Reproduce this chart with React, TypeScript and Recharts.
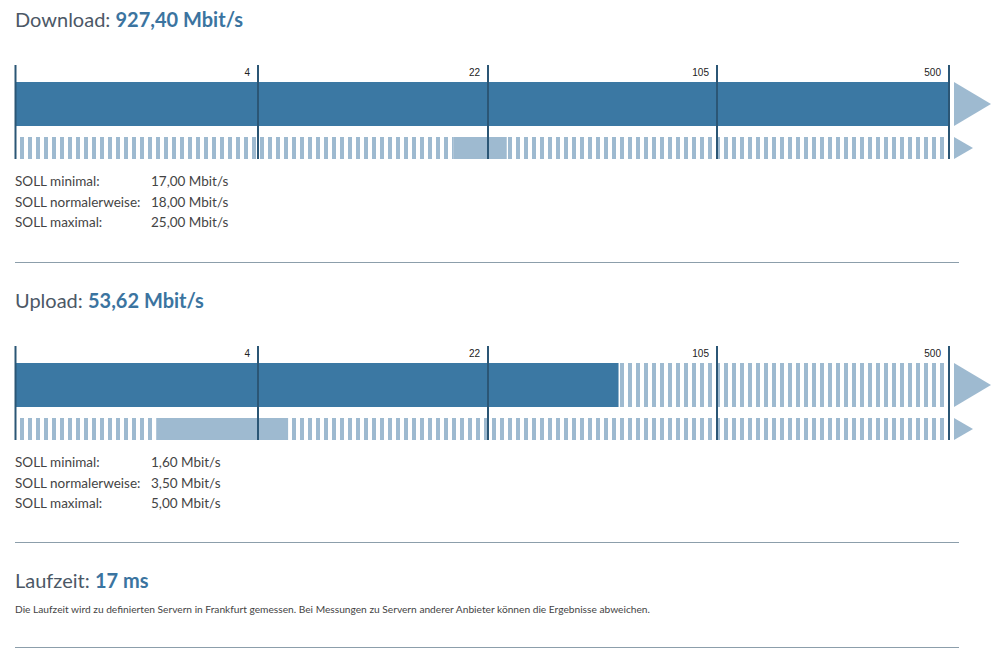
import React from "react";
import { Bar, BarChart, Cell, XAxis, YAxis } from "recharts";

// measured values and target ranges (Mbit/s)
const SECTION_TITLES = ["Download", "Upload"];
const MEASURED = [927.4, 53.62];
const SOLL_MIN = [17, 1.6];
const SOLL_NORMAL = [18, 3.5];
const SOLL_MAX = [25, 5];
const SOLL_LABELS = ["SOLL minimal:", "SOLL normalerweise:", "SOLL maximal:"];
const LATENCY_MS = 17;

// axis: four equal-ish segments, log interpolated inside each one
const TICK_VALUES = [4, 22, 105, 500];
const SCALE_BREAKS = [0.45, 4, 22, 105, 500];
const SEGMENT_WIDTHS = [242.5, 230, 229, 232];
const AXIS_TOTAL = SEGMENT_WIDTHS.reduce((a, b) => a + b, 0);

const DARK = "#3b78a3";
const LIGHT = "#9ebad0";
const LINE = "#2b5675";
const TEXT = "#4c5866";
const BLUE = "#3b74a0";
const FONT = "Lato, 'Open Sans', sans-serif";

const AXIS_H = 10;
const LINE_LEN = 94;

function toAxis(v: number) {
  let start = 0;
  for (let i = 0; i < SEGMENT_WIDTHS.length; i++) {
    const lo = SCALE_BREAKS[i];
    const hi = SCALE_BREAKS[i + 1];
    if (v <= hi) {
      const f = v <= 0 ? 0 : Math.max(0, Math.log(v / lo) / Math.log(hi / lo));
      return start + f * SEGMENT_WIDTHS[i];
    }
    start += SEGMENT_WIDTHS[i];
  }
  return start;
}

const fmt = (v: number) =>
  v.toLocaleString("de-DE", { minimumFractionDigits: 2, maximumFractionDigits: 2 });

const AxisTick = (props: any) => {
  const { x, index } = props;
  const last = index === TICK_VALUES.length;
  return (
    <g>
      <line x1={x} x2={x} y1={AXIS_H} y2={AXIS_H + LINE_LEN} stroke={LINE} strokeWidth={2} />
      {index > 0 && (
        <text
          x={x - 8}
          y={AXIS_H + 10.5}
          textAnchor="end"
          fontSize={10}
          fontFamily="'Liberation Sans', Arial, sans-serif"
          fill="#222"
        >
          {TICK_VALUES[index - 1]}
        </text>
      )}
      {last && (
        <>
          <polygon
            points={`${x + 5},${AXIS_H + 17} ${x + 42},${AXIS_H + 39} ${x + 5},${AXIS_H + 61}`}
            fill={LIGHT}
          />
          <polygon
            points={`${x + 5},${AXIS_H + 72} ${x + 24},${AXIS_H + 83} ${x + 5},${AXIS_H + 94}`}
            fill={LIGHT}
          />
        </>
      )}
    </g>
  );
};

const SpeedBar = ({ idx }: { idx: number }) => {
  const ist = toAxis(MEASURED[idx]);
  const lo = toAxis(SOLL_MIN[idx]);
  const hi = toAxis(SOLL_MAX[idx]);
  const data = [
    {
      name: SECTION_TITLES[idx],
      ist,
      istRest: AXIS_TOTAL - ist,
      sollLow: lo,
      sollBand: hi - lo,
      sollHigh: AXIS_TOTAL - hi,
    },
  ];
  const pid = `stripes${idx}`;
  const stripes = `url(#${pid})`;
  return (
    <BarChart
      width={994}
      height={121}
      data={data}
      layout="vertical"
      margin={{ top: 0, right: 45, bottom: 0, left: 15.5 }}
      barGap={11}
      barCategoryGap={0}
    >
      <defs>
        <pattern id={pid} x={4} y={0} width={8} height={200} patternUnits="userSpaceOnUse">
          <rect x={0} y={0} width={4} height={200} fill={LIGHT} />
        </pattern>
      </defs>
      <YAxis type="category" dataKey="name" hide width={0} />
      <Bar dataKey="ist" stackId="ist" barSize={44} fill={DARK} isAnimationActive={false} />
      <Bar dataKey="istRest" stackId="ist" barSize={44} fill={stripes} isAnimationActive={false} />
      <Bar dataKey="sollLow" stackId="soll" barSize={22} fill={stripes} isAnimationActive={false} />
      <Bar dataKey="sollBand" stackId="soll" barSize={22} fill={LIGHT} isAnimationActive={false}>
        {data.map((d) => (
          <Cell key={d.name} fill={LIGHT} />
        ))}
      </Bar>
      <Bar dataKey="sollHigh" stackId="soll" barSize={22} fill={stripes} isAnimationActive={false} />
      <XAxis
        type="number"
        orientation="top"
        domain={[0, AXIS_TOTAL]}
        ticks={[0, ...TICK_VALUES.map(toAxis)]}
        interval={0}
        height={AXIS_H}
        axisLine={false}
        tickLine={false}
        tick={<AxisTick />}
        allowDataOverflow
      />
    </BarChart>
  );
};

const Heading = ({ top, label, value }: { top: number; label: string; value: string }) => (
  <div
    style={{
      position: "absolute",
      left: 15,
      top,
      fontSize: 20,
      lineHeight: "24px",
      color: TEXT,
      fontFamily: FONT,
      whiteSpace: "nowrap",
    }}
  >
    {label}: <b style={{ color: BLUE }}>{value}</b>
  </div>
);

const Rule = ({ top }: { top: number }) => (
  <div style={{ position: "absolute", left: 15, top, width: 944, height: 1, background: "#8c9eab" }} />
);

const Section = ({ idx, offset }: { idx: number; offset: number }) => {
  const values = [SOLL_MIN[idx], SOLL_NORMAL[idx], SOLL_MAX[idx]];
  return (
    <>
      <Heading top={offset + 7} label={SECTION_TITLES[idx]} value={`${fmt(MEASURED[idx])} Mbit/s`} />
      <div style={{ position: "absolute", left: 0, top: offset + 55 }}>
        <SpeedBar idx={idx} />
      </div>
      {SOLL_LABELS.map((l, i) => (
        <div
          key={l}
          style={{
            position: "absolute",
            left: 15,
            top: offset + 172 + i * 20.5,
            fontSize: 13.5,
            lineHeight: "18px",
            color: "#444",
            fontFamily: FONT,
            whiteSpace: "nowrap",
          }}
        >
          <span style={{ display: "inline-block", width: 136 }}>{l}</span>
          {fmt(values[i])} Mbit/s
        </div>
      ))}
    </>
  );
};

export default function App() {
  return (
    <div style={{ position: "absolute", left: 0, top: 0, width: 994, height: 662, background: "#fff" }}>
      <Section idx={0} offset={0} />
      <Rule top={262} />
      <Section idx={1} offset={281} />
      <Rule top={542} />
      <Heading top={568} label="Laufzeit" value={`${LATENCY_MS} ms`} />
      <div
        style={{
          position: "absolute",
          left: 15,
          top: 603,
          fontSize: 10.2,
          lineHeight: "13px",
          color: "#444",
          fontFamily: FONT,
          whiteSpace: "nowrap",
        }}
      >
        Die Laufzeit wird zu definierten Servern in Frankfurt gemessen. Bei Messungen zu Servern anderer
        Anbieter können die Ergebnisse abweichen.
      </div>
      <Rule top={647} />
    </div>
  );
}
